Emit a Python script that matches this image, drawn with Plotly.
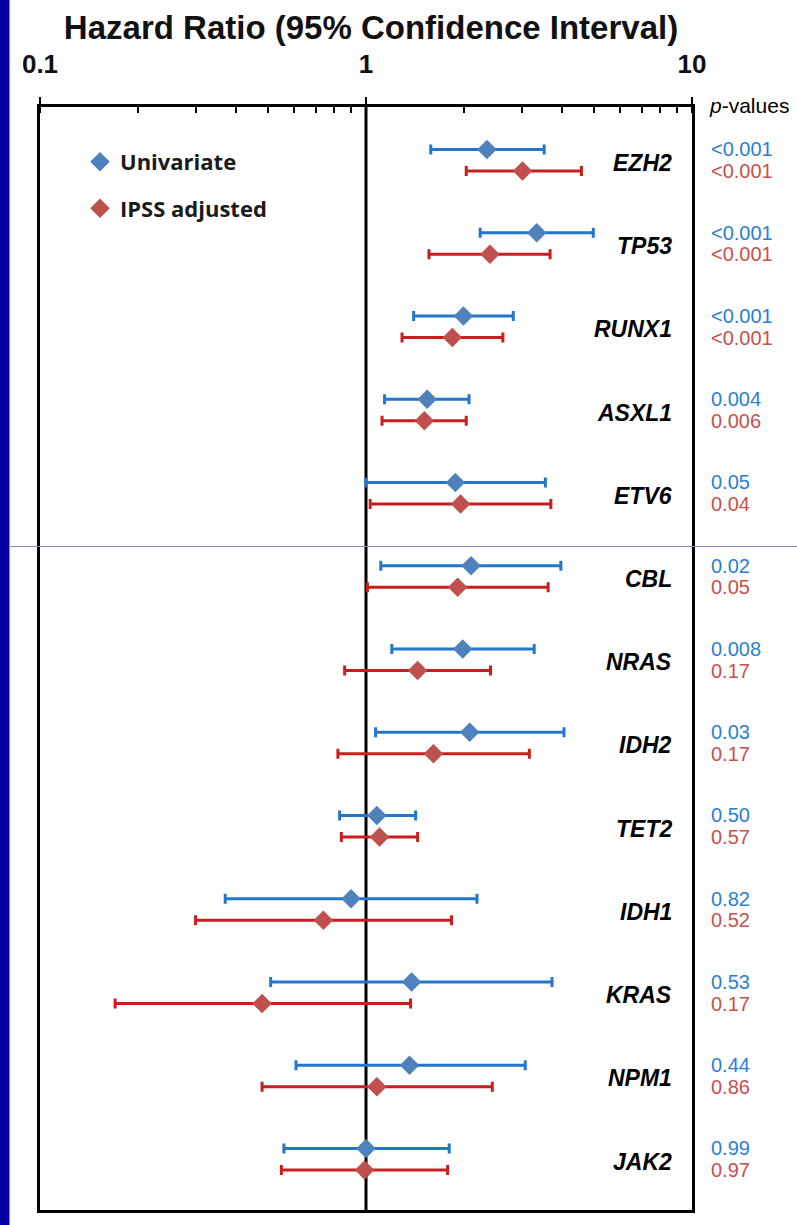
import plotly.graph_objects as go

# ---- data ----
genes = ["EZH2", "TP53", "RUNX1", "ASXL1", "ETV6", "CBL", "NRAS", "IDH2",
         "TET2", "IDH1", "KRAS", "NPM1", "JAK2"]

uni_hr = [2.35, 3.34, 1.99, 1.54, 1.88, 2.10, 1.98, 2.08, 1.08, 0.90, 1.38, 1.36, 1.00]
uni_lo = [1.58, 2.24, 1.40, 1.14, 1.00, 1.11, 1.20, 1.07, 0.83, 0.37, 0.51, 0.61, 0.56]
uni_hi = [3.52, 4.98, 2.83, 2.07, 3.55, 3.96, 3.28, 4.05, 1.42, 2.19, 3.72, 3.08, 1.80]

adj_hr = [3.02, 2.40, 1.84, 1.51, 1.95, 1.91, 1.44, 1.61, 1.10, 0.74, 0.48, 1.08, 0.99]
adj_lo = [2.03, 1.56, 1.29, 1.12, 1.03, 1.01, 0.86, 0.82, 0.84, 0.30, 0.17, 0.48, 0.55]
adj_hi = [4.58, 3.67, 2.63, 2.03, 3.69, 3.62, 2.41, 3.17, 1.44, 1.83, 1.37, 2.44, 1.78]

uni_p = ["<0.001", "<0.001", "<0.001", "0.004", "0.05", "0.02", "0.008", "0.03",
         "0.50", "0.82", "0.53", "0.44", "0.99"]
adj_p = ["<0.001", "<0.001", "<0.001", "0.006", "0.04", "0.05", "0.17", "0.17",
         "0.57", "0.52", "0.17", "0.86", "0.97"]

tick_vals = [0.1, 1, 10]
tick_text = ["0.1", "1", "10"]
ref_hr = 1.0
series_names = ["Univariate", "IPSS adjusted"]

# ---- styling ----
FONT = "Liberation Sans, Arial, sans-serif"
BLUE_LINE = "#2277cc"
BLUE_MARK = "#4f81bd"
RED_LINE = "#c81e1e"
RED_MARK = "#c0504d"
BLUE_TXT = "#2a7fd4"
RED_TXT = "#c9504d"

W, H = 797, 1225
ML, MR, MT, MB = 40, 105, 107, 13
PW = W - ML - MR
PH = H - MT - MB

OFF = 0.13
rows = [-i for i in range(len(genes))]
y_uni = [r + OFF for r in rows]
y_adj = [r - OFF for r in rows]

fig = go.Figure()

fig.add_trace(go.Scatter(
    x=uni_hr, y=y_uni, mode="markers", name=series_names[0], legendgroup="a",
    marker=dict(symbol="diamond", size=15, color=BLUE_MARK),
    error_x=dict(type="data", symmetric=False,
                 array=[h - m for h, m in zip(uni_hi, uni_hr)],
                 arrayminus=[m - l for m, l in zip(uni_hr, uni_lo)],
                 color=BLUE_LINE, thickness=3, width=5),
))
fig.add_trace(go.Scatter(
    x=adj_hr, y=y_adj, mode="markers", name=series_names[1], legendgroup="b",
    marker=dict(symbol="diamond", size=15, color=RED_MARK),
    error_x=dict(type="data", symmetric=False,
                 array=[h - m for h, m in zip(adj_hi, adj_hr)],
                 arrayminus=[m - l for m, l in zip(adj_hr, adj_lo)],
                 color=RED_LINE, thickness=3, width=5),
))

annotations = []
for g, r, pu, pa in zip(genes, rows, uni_p, adj_p):
    annotations.append(dict(
        x=(674 - ML) / PW, xref="paper", y=r - 0.03, yref="y", text="<b><i>%s</i></b>" % g,
        xanchor="right", yanchor="middle", showarrow=False,
        font=dict(family=FONT, size=23, color="black")))
    annotations.append(dict(
        x=(709 - ML) / PW, xref="paper", y=r + OFF, yref="y", text=pu,
        xanchor="left", yanchor="middle", showarrow=False,
        font=dict(family=FONT, size=20, color=BLUE_TXT)))
    annotations.append(dict(
        x=(709 - ML) / PW, xref="paper", y=r - OFF, yref="y", text=pa,
        xanchor="left", yanchor="middle", showarrow=False,
        font=dict(family=FONT, size=20, color=RED_TXT)))

annotations.append(dict(
    x=(707 - ML) / PW, xref="paper", y=1 + (MT - 105) / PH, yref="paper",
    text="<i>p</i>-values", xanchor="left", yanchor="middle", showarrow=False,
    font=dict(family=FONT, size=21, color="black")))

shapes = [
    # reference line at HR = 1
    dict(type="line", xref="x", yref="paper", x0=ref_hr, x1=ref_hr, y0=0, y1=1,
         line=dict(color="black", width=3), layer="below"),
    # separator line
    dict(type="line", xref="paper", yref="y", x0=(10 - ML) / PW, x1=(W - ML) / PW,
         y0=-4.64, y1=-4.64, line=dict(color="#8a8ab8", width=1)),
    # dark blue strip at left edge
    dict(type="rect", xref="paper", yref="paper", x0=-ML / PW - 0.01, x1=(9.5 - ML) / PW,
         y0=-MB / PH - 0.01, y1=1 + MT / PH + 0.01, fillcolor="#0000a0",
         line=dict(width=0)),
]

fig.update_layout(
    width=W, height=H,
    margin=dict(l=ML, r=MR, t=MT, b=MB),
    paper_bgcolor="white", plot_bgcolor="white",
    title=dict(text="<b>Hazard Ratio (95% Confidence Interval)</b>",
               x=(371 - ML) / PW, xref="paper", xanchor="center",
               y=1 - 27 / H, yref="container", yanchor="middle",
               font=dict(family=FONT, size=33, color="#111111")),
    showlegend=True,
    legend=dict(x=(80 - ML) / PW, y=1 - (141 - MT) / PH, xanchor="left", yanchor="top",
                bgcolor="rgba(0,0,0,0)", borderwidth=0, traceorder="grouped",
                tracegroupgap=15,
                font=dict(family="Open Sans, sans-serif", size=22, color="#1a1a1a",
                          weight="bold")),
    annotations=annotations,
    shapes=shapes,
)

fig.update_xaxes(
    type="log", range=[-1, 1], side="top",
    tickvals=tick_vals, ticktext=tick_text,
    ticks="outside", ticklen=7, tickwidth=2, tickcolor="black",
    ticklabelstandoff=14,
    tickfont=dict(family=FONT, size=26, color="#111111", weight="bold"),
    minor=dict(ticks="inside", ticklen=6, tickwidth=2, tickcolor="black",
               dtick="D1", showgrid=False),
    showline=True, linecolor="black", linewidth=3, mirror=True,
    showgrid=False, zeroline=False, fixedrange=True,
)
fig.update_yaxes(
    range=[-12.61, 0.64], showticklabels=False, ticks="",
    showline=True, linecolor="black", linewidth=3, mirror=True,
    showgrid=False, zeroline=False, fixedrange=True,
)

fig.write_html("out.html")
